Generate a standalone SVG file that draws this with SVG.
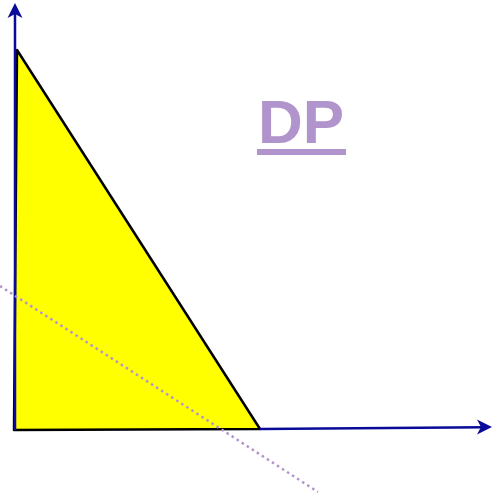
<svg xmlns="http://www.w3.org/2000/svg" width="492" height="499" viewBox="0 0 492 499">
<style>
.axis{stroke:#0a0a9a;stroke-width:2.5;fill:none}
.head{fill:#0a0a9a}
.dp{font-family:"Liberation Sans",Arial,sans-serif;font-weight:bold;font-size:62px;fill:#b294cc}
</style>
<rect width="492" height="499" fill="#fff"/>
<g id="triangle">
<polygon points="17,50 14,430 260,429" fill="#ffff00" stroke="#000" stroke-width="2.5" stroke-linejoin="round"/>
</g>
<g id="connectors">
<line class="axis" x1="15" y1="430" x2="15" y2="12"/>
<path class="head" d="M15,3 L22.5,18 L15,14 L7.5,18 Z"/>
<line class="axis" x1="260" y1="429" x2="484" y2="427.2"/>
<path class="head" d="M492,427 L477,434.5 L481,427 L477,419.5 Z"/>
<line x1="0" y1="286" x2="318" y2="492" stroke="#b294cc" stroke-width="2.5" stroke-dasharray="2.5,3.5"/>
</g>
<g id="label">
<text class="dp" x="301" y="143" text-anchor="middle">DP</text>
<rect x="257" y="149" width="89" height="6" fill="#b294cc"/>
</g>
</svg>
